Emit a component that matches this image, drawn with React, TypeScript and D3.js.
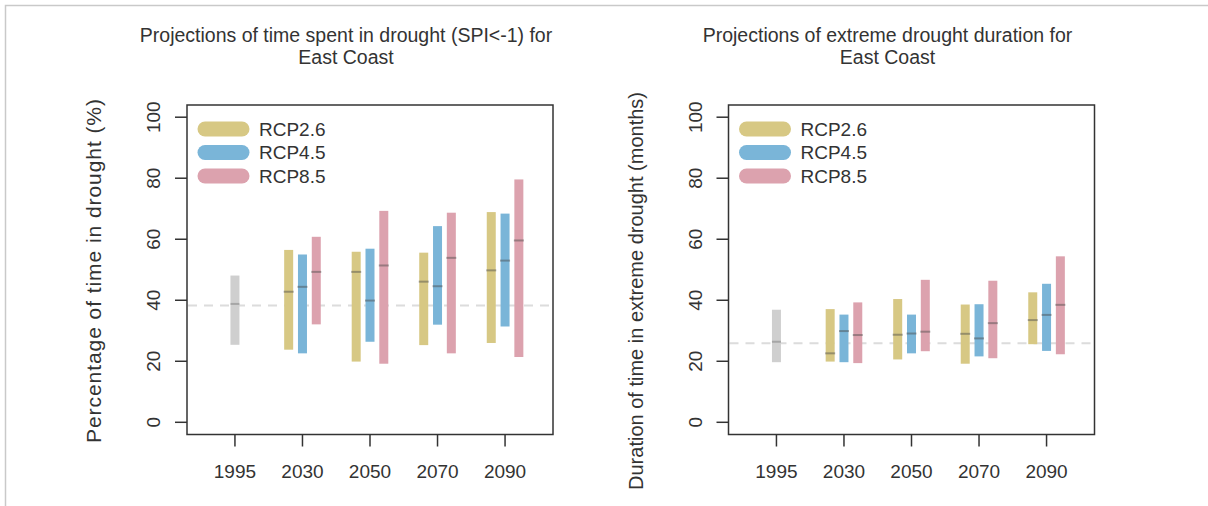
import React, { useEffect, useRef } from 'react';
import * as d3 from 'd3';

// periods on the x axis
const years = ['1995', '2030', '2050', '2070', '2090'];
const scenarios = ['RCP2.6', 'RCP4.5', 'RCP8.5'];
const scenarioColors = ['#d7c884', '#7ab5d8', '#dca2ae'];
const baselineColor = '#cfcfcf';
const yTicks = [0, 20, 40, 60, 80, 100];

// panel 1: % time in drought (SPI<-1)
const droughtBase = { low: 25.4, mid: 38.8, high: 48.1 };
const droughtRef = 38.3;
const droughtLow26 = [23.8, 19.9, 25.3, 26.0];
const droughtMid26 = [42.8, 49.3, 46.1, 49.8];
const droughtHigh26 = [56.5, 55.9, 55.6, 68.9];
const droughtLow45 = [22.6, 26.4, 32.0, 31.4];
const droughtMid45 = [44.4, 39.9, 44.6, 53.0];
const droughtHigh45 = [55.0, 56.9, 64.3, 68.4];
const droughtLow85 = [32.1, 19.2, 22.6, 21.4];
const droughtMid85 = [49.3, 51.4, 53.9, 59.6];
const droughtHigh85 = [60.8, 69.3, 68.7, 79.6];

// panel 2: extreme drought duration (months)
const durationBase = { low: 19.7, mid: 26.4, high: 36.9 };
const durationRef = 25.9;
const durationLow26 = [19.9, 20.6, 19.2, 25.6];
const durationMid26 = [22.6, 28.7, 29.0, 33.5];
const durationHigh26 = [37.1, 40.4, 38.6, 42.6];
const durationLow45 = [19.7, 22.6, 21.6, 23.4];
const durationMid45 = [29.9, 29.1, 27.5, 35.2];
const durationHigh45 = [35.3, 35.3, 38.7, 45.4];
const durationLow85 = [19.4, 23.3, 21.0, 22.3];
const durationMid85 = [28.6, 29.7, 32.5, 38.5];
const durationHigh85 = [39.3, 46.7, 46.4, 54.4];

interface Range {
  low: number;
  mid: number;
  high: number;
}

interface PanelSpec {
  left: number;
  title: string[];
  yLabel: string;
  yLabelCenter: number;
  yLabelSize: number;
  yLabelLength: number | null;
  base: Range;
  ref: number;
  series: Range[][];
}

const toRanges = (low: number[], mid: number[], high: number[]): Range[] =>
  low.map((l, i) => ({ low: l, mid: mid[i], high: high[i] }));

const panels: PanelSpec[] = [
  {
    left: 187,
    title: ['Projections of time spent in drought (SPI<-1) for', 'East Coast'],
    yLabel: 'Percentage of time in drought (%)',
    yLabelCenter: 271,
    yLabelSize: 21,
    yLabelLength: 344,
    base: droughtBase,
    ref: droughtRef,
    series: [
      toRanges(droughtLow26, droughtMid26, droughtHigh26),
      toRanges(droughtLow45, droughtMid45, droughtHigh45),
      toRanges(droughtLow85, droughtMid85, droughtHigh85),
    ],
  },
  {
    left: 728.5,
    title: ['Projections of extreme drought duration for', 'East Coast'],
    yLabel: 'Duration of time in extreme drought (months)',
    yLabelCenter: 291,
    yLabelSize: 20,
    yLabelLength: null,
    base: durationBase,
    ref: durationRef,
    series: [
      toRanges(durationLow26, durationMid26, durationHigh26),
      toRanges(durationLow45, durationMid45, durationHigh45),
      toRanges(durationLow85, durationMid85, durationHigh85),
    ],
  },
];

const W = 1208;
const H = 506;
const FONT = '"Liberation Sans", Arial, sans-serif';
const TEXT = '#333';

const boxW = 366;
const boxTop = 105;
const boxBottom = 434.5;
const barW = 9;
const groupOffset = 13.8;

export default function App() {
  const ref = useRef<SVGSVGElement>(null);

  useEffect(() => {
    const svg = d3.select(ref.current);
    svg.selectAll('*').remove();

    svg.append('rect').attr('width', W).attr('height', H).attr('fill', '#fff');
    // outer frame of the figure
    svg
      .append('path')
      .attr('d', `M5.5,${H} V5.5 H${W}`)
      .attr('fill', 'none')
      .attr('stroke', '#c9c9c9')
      .attr('stroke-width', 1.5);

    panels.forEach((p) => {
      const g = svg.append('g').attr('transform', `translate(${p.left},0)`);

      const x = d3.scalePoint<string>().domain(years).range([0, boxW]).padding(0.71);
      const y = d3.scaleLinear().domain([-4, 104]).range([boxBottom, boxTop]);

      // title
      g.selectAll('text.title')
        .data(p.title)
        .enter()
        .append('text')
        .attr('class', 'title')
        .attr('x', 159)
        .attr('y', (d, i) => 42 + i * 22)
        .attr('text-anchor', 'middle')
        .style('font-family', FONT)
        .style('font-size', '19.5px')
        .style('fill', TEXT)
        .text((d) => d);

      // reference line
      g.append('line')
        .attr('x1', 1)
        .attr('x2', boxW - 1)
        .attr('y1', y(p.ref))
        .attr('y2', y(p.ref))
        .attr('stroke', '#dcdcdc')
        .attr('stroke-width', 2)
        .attr('stroke-dasharray', '9,7');

      // baseline bar
      const bx = x(years[0]) as number;
      g.append('rect')
        .attr('x', bx - barW / 2)
        .attr('y', y(p.base.high))
        .attr('width', barW)
        .attr('height', y(p.base.low) - y(p.base.high))
        .attr('fill', baselineColor);
      g.append('line')
        .attr('x1', bx - barW / 2)
        .attr('x2', bx + barW / 2)
        .attr('y1', y(p.base.mid))
        .attr('y2', y(p.base.mid))
        .attr('stroke', 'rgba(90,90,90,0.35)')
        .attr('stroke-width', 2);

      // scenario bars
      p.series.forEach((s, si) => {
        const off = (si - 1) * groupOffset;
        const grp = g.append('g');
        grp
          .selectAll('rect')
          .data(s)
          .enter()
          .append('rect')
          .attr('x', (d, i) => (x(years[i + 1]) as number) + off - barW / 2)
          .attr('y', (d) => y(d.high))
          .attr('width', barW)
          .attr('height', (d) => y(d.low) - y(d.high))
          .attr('fill', scenarioColors[si]);
        grp
          .selectAll('line')
          .data(s)
          .enter()
          .append('line')
          .attr('x1', (d, i) => (x(years[i + 1]) as number) + off - barW / 2 - 0.5)
          .attr('x2', (d, i) => (x(years[i + 1]) as number) + off + barW / 2 + 0.5)
          .attr('y1', (d) => y(d.mid))
          .attr('y2', (d) => y(d.mid))
          .attr('stroke', 'rgba(70,70,70,0.45)')
          .attr('stroke-width', 2);
      });

      // legend
      scenarios.forEach((name, i) => {
        const ly = 129 + i * 23.5;
        g.append('line')
          .attr('x1', 18)
          .attr('x2', 55)
          .attr('y1', ly)
          .attr('y2', ly)
          .attr('stroke', scenarioColors[i])
          .attr('stroke-width', 15)
          .attr('stroke-linecap', 'round');
        g.append('text')
          .attr('x', 72)
          .attr('y', ly)
          .attr('dy', '0.35em')
          .style('font-family', FONT)
          .style('font-size', '19px')
          .style('fill', TEXT)
          .text(name);
      });

      // box
      g.append('rect')
        .attr('x', 0)
        .attr('y', boxTop)
        .attr('width', boxW)
        .attr('height', boxBottom - boxTop)
        .attr('fill', 'none')
        .attr('stroke', '#333')
        .attr('stroke-width', 1.5);

      // y axis
      yTicks.forEach((t) => {
        g.append('line')
          .attr('x1', -12)
          .attr('x2', 0)
          .attr('y1', y(t))
          .attr('y2', y(t))
          .attr('stroke', '#333')
          .attr('stroke-width', 1.5);
        g.append('text')
          .attr('transform', `translate(-27,${y(t)}) rotate(-90)`)
          .attr('text-anchor', 'middle')
          .style('font-family', FONT)
          .style('font-size', '19px')
          .style('fill', TEXT)
          .text(t);
      });

      // x axis
      years.forEach((yr) => {
        const tx = x(yr) as number;
        g.append('line')
          .attr('x1', tx)
          .attr('x2', tx)
          .attr('y1', boxBottom)
          .attr('y2', boxBottom + 12)
          .attr('stroke', '#333')
          .attr('stroke-width', 1.5);
        g.append('text')
          .attr('x', tx)
          .attr('y', 478)
          .attr('text-anchor', 'middle')
          .style('font-family', FONT)
          .style('font-size', '19px')
          .style('fill', TEXT)
          .text(yr);
      });

      // y label
      const yl = g
        .append('text')
        .attr('transform', `translate(-86,${p.yLabelCenter}) rotate(-90)`)
        .attr('text-anchor', 'middle')
        .style('font-family', FONT)
        .style('font-size', `${p.yLabelSize}px`)
        .style('fill', TEXT)
        .text(p.yLabel);
      if (p.yLabelLength) {
        yl.attr('textLength', p.yLabelLength).attr('lengthAdjust', 'spacing');
      }
    });
  });

  return (
    <svg
      ref={ref}
      width={W}
      height={H}
      style={{ position: 'absolute', left: 0, top: 0, display: 'block' }}
    />
  );
}
